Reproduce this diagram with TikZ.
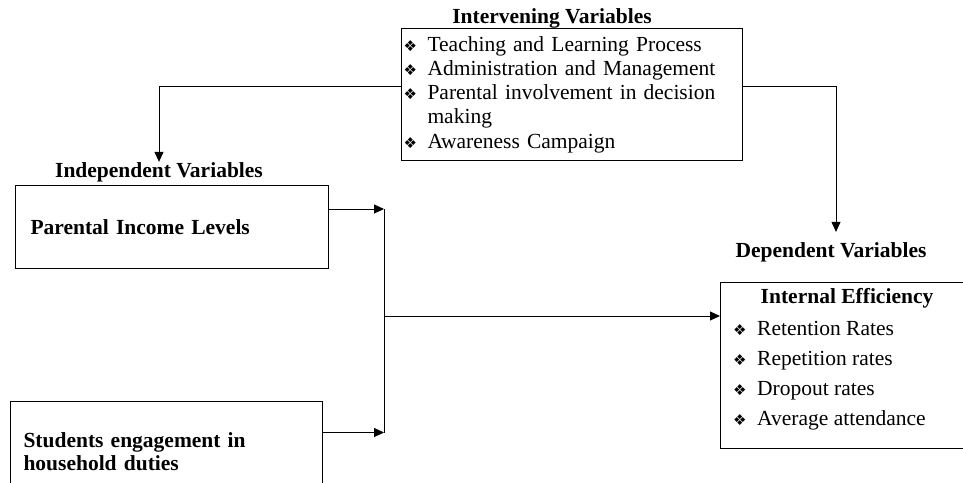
\documentclass[tikz,border=0pt]{standalone}
\usepackage{fontspec}
\setmainfont{Liberation Serif}
\newfontfamily\dejavu{DejaVu Sans}
\usetikzlibrary{arrows.meta}

\newcommand{\bul}{{\dejavu\fontsize{15}{15}\selectfont ❖}}
\newcommand{\itm}[1]{\makebox[24pt][l]{\bul}#1}

\tikzset{
  box/.style={draw, line width=1pt, inner ysep=0pt},
  heading/.style={font=\bfseries, inner sep=0pt},
  arr/.style={-{Triangle[length=10pt,width=9pt]}, line width=1pt}
}

\begin{document}
\fontsize{21.5}{24.3}\selectfont
\begin{tikzpicture}[x=1pt,y=-1pt]
			\useasboundingbox (0,0) rectangle (963,482);
			% intervening variables
			\node[heading, anchor=base] (ivlabel) at (552,23) {Intervening Variables};
			\node[box, anchor=north west, inner xsep=2pt, text width=337pt, align=left, minimum height=132pt] (iv) at (401,28)
				{\itm{Teaching and Learning Process}\\
				 \itm{Administration and Management}\\
				 \itm{Parental involvement in decision}\\
				 \hspace*{24pt}making\\
				 \itm{Awareness Campaign}};
			% independent variables
			\node[heading, anchor=base] (indlabel) at (159,177) {Independent Variables};
			\node[box, font=\bfseries, anchor=north west, inner xsep=15pt, text width=283pt, align=left, minimum height=83pt] (inc) at (15,185)
				{Parental Income Levels};
			\node[box, font=\fontsize{21.5}{23}\selectfont\bfseries, anchor=north west, inner xsep=13pt, text width=286pt, align=left, minimum height=100pt] (hh) at (10,401)
				{Students engagement in\\household duties};
			% dependent variables
			\node[heading, anchor=base] (deplabel) at (831,257) {Dependent Variables};
			\node[box, anchor=north west, minimum width=254pt, minimum height=166pt] (ie) at (720,282) {};
			\node[heading, anchor=base] (ietitle) at (847,303) {Internal Efficiency};
			\foreach \t [count=\i] in {Retention Rates, Repetition rates, Dropout rates, Average attendance}
				\node[anchor=base west, inner sep=0pt] (item\i) at (733,305+30*\i) {\itm{\t}};
			% connectors
			\draw[arr] ([yshift=8pt]iv.west) -| (indlabel.north);
			\draw[arr, shorten >=10pt] ([yshift=8pt]iv.east) -| ([xshift=5pt]deplabel.north);
			\draw[arr] ([yshift=18pt]inc.east) -- ++(55,0) coordinate (jtop);
			\draw[arr] ([yshift=19pt]hh.east) -- ++(61,0) coordinate (jbot);
			\draw[line width=1pt] (jtop) -- (jbot);
			\coordinate (jmid) at (385,316);
			\draw[arr] (jmid) -- (jmid -| ie.west);
		\end{tikzpicture}
\end{document}
